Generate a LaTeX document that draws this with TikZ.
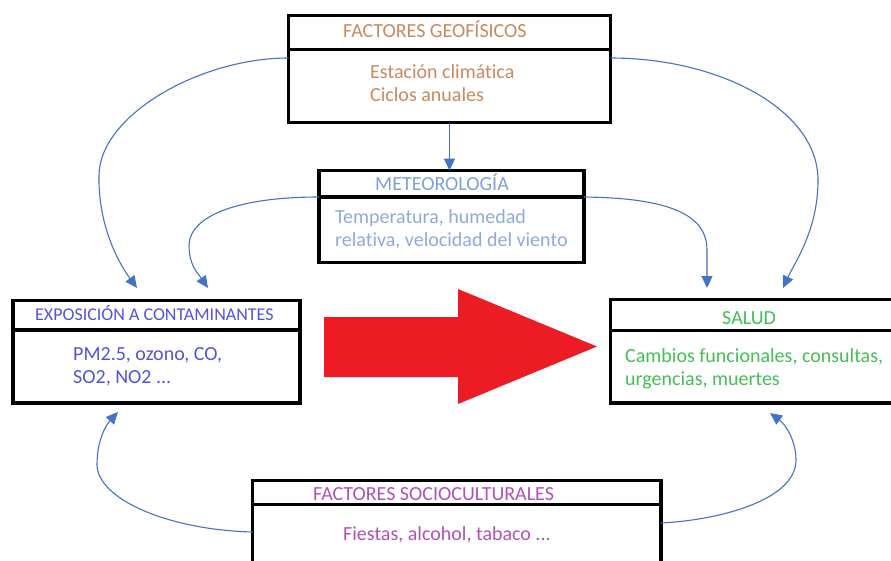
\documentclass[tikz,border=0pt]{standalone}
\usepackage{fontspec}
\setmainfont{Carlito}[Ligatures=NoCommon]
\usetikzlibrary{positioning,arrows.meta}

\definecolor{geoBrown}{HTML}{C8895E}
\definecolor{meteoBlue}{HTML}{7F9FD6}
\definecolor{meteoLight}{HTML}{8EAADB}
\definecolor{expoViolet}{HTML}{5252DE}
\definecolor{saludGreen}{HTML}{45BD55}
\definecolor{socioPurple}{HTML}{B050B8}
\definecolor{linkBlue}{HTML}{4472C4}
\definecolor{arrowRed}{HTML}{ED1C24}

\tikzset{
  boxpart/.style={draw, line width=3.8pt, outer sep=0pt, inner sep=0pt},
  txt/.style={inner sep=0pt, align=left, font=\fontsize{20}{23}\selectfont},
  link/.style={linkBlue, line width=1.1pt, -{Triangle[length=12pt,width=11pt]}}
}

\begin{document}
\begin{tikzpicture}[x=1pt,y=-1pt]
  \useasboundingbox (0,0) rectangle (891,560);
  \clip (0,0) rectangle (891,560);

  \node[boxpart, minimum width=322pt, minimum height=34pt, anchor=north west] (geoTitle) at (288.5,15.5) {};
  \node[boxpart, minimum width=322pt, minimum height=73pt, below=0pt of geoTitle] (geoBody) {};
  \node[txt, geoBrown, anchor=base west] (geoHead) at ([xshift=54.5pt,yshift=12.5pt]geoTitle.south west) {FACTORES GEOFÍSICOS};
  \node[txt, geoBrown, anchor=west] (geoText) at ([xshift=81.5pt,yshift=3pt]geoBody.west) {Estación climática\\Ciclos anuales};

  \node[boxpart, minimum width=265pt, minimum height=26.5pt, anchor=north west] (meteoTitle) at (319,170.5) {};
  \node[boxpart, minimum width=265pt, minimum height=65.5pt, below=0pt of meteoTitle] (meteoBody) {};
  \node[txt, meteoBlue, anchor=base west] (meteoHead) at ([xshift=56pt,yshift=6.3pt]meteoTitle.south west) {METEOROLOGÍA};
  \node[txt, meteoLight, anchor=west] (meteoText) at ([xshift=16pt]meteoBody.west) {Temperatura, humedad\\relativa, velocidad del viento};

  \node[boxpart, minimum width=287pt, minimum height=29.5pt, anchor=north west] (expoTitle) at (13,300.5) {};
  \node[boxpart, minimum width=287pt, minimum height=73pt, below=0pt of expoTitle] (expoBody) {};
  \node[txt, expoViolet, anchor=base west, font=\fontsize{18}{21}\selectfont] (expoHead) at ([xshift=22pt,yshift=10pt]expoTitle.south west) {EXPOSICIÓN A CONTAMINANTES};
  \node[txt, expoViolet, anchor=west] (expoText) at ([xshift=60pt]expoBody.west) {PM2.5, ozono, CO,\\SO2, NO2 ...};

  \node[boxpart, minimum width=290pt, minimum height=31pt, anchor=north west] (saludTitle) at (610.5,299.5) {};
  \node[boxpart, minimum width=290pt, minimum height=72.5pt, below=0pt of saludTitle] (saludBody) {};
  \node[txt, saludGreen, anchor=base west] (saludHead) at ([xshift=111.5pt,yshift=6.2pt]saludTitle.south west) {SALUD};
  \node[txt, saludGreen, anchor=west] (saludText) at ([xshift=14.5pt,yshift=-2.5pt]saludBody.west) {Cambios funcionales, consultas,\\urgencias, muertes};

  \node[boxpart, minimum width=408.5pt, minimum height=24pt, anchor=north west] (socioTitle) at (252.5,480.5) {};
  \node[boxpart, minimum width=408.5pt, minimum height=80pt, below=0pt of socioTitle] (socioBody) {};
  \node[txt, socioPurple, anchor=base west] (socioHead) at ([xshift=60.5pt,yshift=3.8pt]socioTitle.south west) {FACTORES SOCIOCULTURALES};
  \node[txt, socioPurple, anchor=base west] (socioText) at ([xshift=90.5pt,yshift=-35.5pt]socioBody.north west) {Fiestas, alcohol, tabaco ...};

  \fill[arrowRed] (324,317) -- (458,317) -- (458,289) -- (597,346.5) -- (458,404) -- (458,377) -- (324,377) -- cycle;

  \draw[link] (geoBody.south) -- (geoBody.south |- meteoTitle.north);
  \draw[link] ([yshift=-8.5pt]geoBody.north west) .. controls (200,58) and (100,115) .. (99,175) .. controls (98,225) and (118,262) .. ([xshift=-19.5pt,yshift=12.5pt]expoTitle.north);
  \draw[link] (meteoBody.north west) .. controls (240,197) and (190,215) .. (189,245) .. controls (189,265) and (197,272) .. ([xshift=51.5pt,yshift=12.5pt]expoTitle.north);
  \draw[link] ([yshift=-8.5pt]geoBody.north east) .. controls (720,58) and (818,110) .. (818,180) .. controls (818,230) and (795,262) .. ([xshift=172.5pt,yshift=11.5pt]saludTitle.north west);
  \draw[link] (meteoBody.north east) .. controls (670,198) and (707,215) .. (707,250) -- ([xshift=96.5pt,yshift=11.5pt]saludTitle.north west);
  \draw[link] ([yshift=-27.5pt]socioBody.north west) .. controls (170,530) and (98,500) .. (97,465) .. controls (97,440) and (106,425) .. ([xshift=105pt,yshift=-9pt]expoBody.south west);
  \draw[link] ([yshift=-18.5pt]socioBody.north east) .. controls (720,520) and (796,500) .. (796,460) .. controls (796,440) and (785,424) .. ([xshift=159.5pt,yshift=-10pt]saludBody.south west);
\end{tikzpicture}
\end{document}
